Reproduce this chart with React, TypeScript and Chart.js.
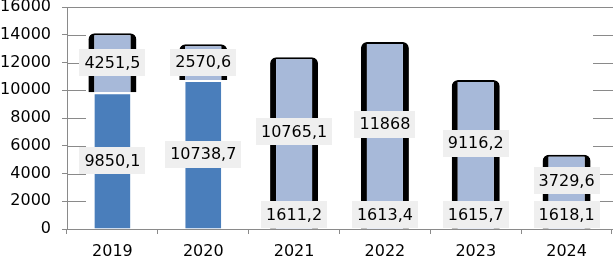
import React, { useEffect, useRef } from 'react';
import { Chart, registerables } from 'chart.js';

Chart.register(...registerables);

const categories = ['2019', '2020', '2021', '2022', '2023', '2024'];
const baseSeries: (number | null)[] = [null, null, 1611.2, 1613.4, 1615.7, 1618.1];
const darkSeries: (number | null)[] = [9850.1, 10738.7, null, null, null, null];
const lightSeries: (number | null)[] = [4251.5, 2570.6, 10765.1, 11868, 9116.2, 3729.6];
const yMin = 0;
const yMax = 16000;
const yStep = 2000;

const AXIS = '#8a8a8a';
const DARK = '#4a7ebb';
const LIGHT = '#a7b9d9';
const LABEL_BG = '#efefef';
const FONT = '"DejaVu Sans", "Liberation Sans", sans-serif';

const fmt = (v: number) => String(v).replace('.', ',');

const decorPlugin = {
  id: 'decor',
  beforeDatasetsDraw(chart: any) {
    const { ctx, chartArea } = chart;
    const { left, right } = chartArea;
    const y = chart.scales.y;
    ctx.save();
    ctx.strokeStyle = AXIS;
    ctx.lineWidth = 1;
    y.ticks.forEach((t: any) => {
      const py = Math.round(y.getPixelForValue(t.value)) + 0.5;
      ctx.beginPath();
      if (t.value === y.max) {
        ctx.moveTo(left, py);
        ctx.lineTo(right + 1, py);
      } else if (t.value !== y.min) {
        ctx.moveTo(left, py);
        ctx.lineTo(left + 19, py);
        ctx.moveTo(right - 19, py);
        ctx.lineTo(right + 1, py);
      }
      ctx.stroke();
    });
    ctx.restore();
  },
  afterDatasetsDraw(chart: any) {
    const { ctx, chartArea } = chart;
    ctx.save();
    ctx.font = `16px ${FONT}`;
    ctx.textAlign = 'center';
    ctx.textBaseline = 'middle';
    chart.data.datasets.forEach((ds: any, i: number) => {
      const meta = chart.getDatasetMeta(i);
      meta.data.forEach((bar: any, j: number) => {
        const v = ds.data[j];
        if (v === null || v === undefined) return;
        const p = bar.getProps(['x', 'y', 'base'], true);
        const text = fmt(v);
        const w = ctx.measureText(text).width + 10;
        const h = 27;
        let cy = (p.y + p.base) / 2;
        if (cy + h / 2 > chartArea.bottom - 1) cy = chartArea.bottom - 1 - h / 2;
        ctx.fillStyle = LABEL_BG;
        ctx.fillRect(Math.round(p.x - w / 2), Math.round(cy - h / 2), Math.round(w), h);
        ctx.fillStyle = '#000';
        ctx.fillText(text, p.x, cy + 1);
      });
    });
    ctx.restore();
  },
};

export default function App() {
  const ref = useRef<HTMLCanvasElement | null>(null);

  useEffect(() => {
    if (!ref.current) return;
    const chart = new Chart(ref.current, {
      type: 'bar',
      data: {
        labels: categories,
        datasets: [
          {
            label: 'base',
            data: baseSeries,
            backgroundColor: LIGHT,
            borderColor: '#000',
            borderWidth: { left: 6, right: 6, top: 0, bottom: 0 },
            borderSkipped: false,
            barThickness: 48,
            inflateAmount: 0,
          },
          {
            label: 'dark',
            data: darkSeries,
            backgroundColor: DARK,
            borderColor: '#ffffff',
            borderWidth: { left: 0, right: 0, top: 2, bottom: 0 },
            borderSkipped: false,
            barThickness: 36,
            inflateAmount: 0,
          },
          {
            label: 'light',
            data: lightSeries,
            backgroundColor: LIGHT,
            borderColor: '#000',
            borderWidth: { left: 6, right: 6, top: 2, bottom: 0 },
            borderSkipped: false,
            borderRadius: { topLeft: 6, topRight: 6, bottomLeft: 0, bottomRight: 0 },
            barThickness: 48,
            inflateAmount: 0,
          },
        ] as any,
      },
      options: {
        responsive: false,
        animation: false,
        layout: { padding: { top: 7, right: 1, left: 0, bottom: 0 } },
        plugins: { legend: { display: false }, tooltip: { enabled: false } },
        scales: {
          x: {
            stacked: true,
            grid: { offset: true, drawOnChartArea: false, tickLength: 5, color: AXIS },
            border: { color: AXIS },
            ticks: { color: '#000', font: { family: FONT, size: 16 }, padding: 8 },
            afterFit: (s: any) => {
              s.height = 28;
              s.paddingLeft = 0;
              s.paddingRight = 0;
            },
          },
          y: {
            stacked: true,
            min: yMin,
            max: yMax,
            ticks: {
              stepSize: yStep,
              color: '#000',
              font: { family: FONT, size: 16 },
              padding: 11,
              callback: (v: any) => String(v),
            },
            grid: { drawOnChartArea: false, tickLength: 5, color: AXIS },
            border: { color: AXIS },
            afterFit: (s: any) => {
              s.width = 67;
              s.paddingTop = 0;
              s.paddingBottom = 0;
            },
          },
        },
      } as any,
      plugins: [decorPlugin],
    });
    return () => chart.destroy();
  }, []);

  return (
    <div style={{ position: 'fixed', left: 0, top: 0, width: 613, height: 257, background: '#fff' }}>
      <canvas ref={ref} width={613} height={257} style={{ display: 'block' }} />
    </div>
  );
}
